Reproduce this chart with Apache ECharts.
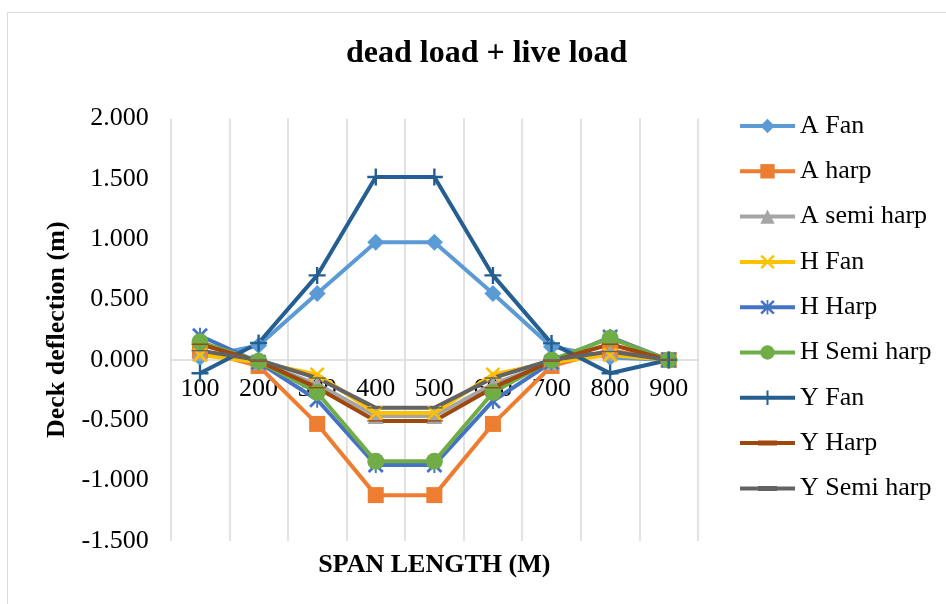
<!DOCTYPE html>
<html>
<head>
<meta charset="utf-8">
<script src="https://cdn.jsdelivr.net/npm/echarts@6/dist/echarts.min.js"></script>
<style>
html,body{margin:0;padding:0;background:#fff;}
#frame{position:absolute;left:7px;top:12px;width:960px;height:620px;border:1.5px solid #d9d9d9;box-sizing:border-box;}
#chart{position:absolute;left:0;top:0;width:946px;height:604px;}
</style>
</head>
<body>
<div id="frame"></div>
<div id="chart"></div>
<script>
const categories = ['100','200','300','400','500','600','700','800','900'];
const aFan       = [0.02, 0.12, 0.55, 0.975, 0.975, 0.55, 0.11, 0.02, 0];
const aHarp      = [0.08, -0.05, -0.53, -1.12, -1.12, -0.53, -0.05, 0.08, 0];
const aSemiHarp  = [0.06, -0.02, -0.20, -0.465, -0.465, -0.20, -0.02, 0.06, 0];
const hFan       = [0.04, -0.02, -0.12, -0.44, -0.44, -0.12, -0.02, 0.04, 0];
const hHarp      = [0.20, -0.02, -0.33, -0.87, -0.87, -0.34, -0.02, 0.19, 0];
const hSemiHarp  = [0.15, -0.01, -0.27, -0.84, -0.84, -0.27, 0.00, 0.18, 0];
const yFan       = [-0.11, 0.14, 0.70, 1.515, 1.515, 0.70, 0.137, -0.11, 0];
const yHarp      = [0.13, -0.01, -0.23, -0.505, -0.505, -0.23, -0.01, 0.13, 0];
const ySemiHarp  = [0.077, 0.00, -0.15, -0.397, -0.397, -0.15, 0.00, 0.07, 0];
const seriesNames = ['A Fan','A harp','A semi harp','H Fan','H Harp','H Semi harp','Y Fan','Y Harp','Y Semi harp'];
const yTicks = [-1.5, -1.0, -0.5, 0, 0.5, 1.0, 1.5, 2.0];

const FONT = "'Liberation Serif','Times New Roman',serif";
const X_PATH = 'path://M0,1.2L1.2,0L10,8.8L8.8,10Z M8.8,0L10,1.2L1.2,10L0,8.8Z';
const STAR_PATH = 'path://M0,1.2L1.2,0L10,8.8L8.8,10Z M8.8,0L10,1.2L1.2,10L0,8.8Z M4.4,0H5.6V10H4.4Z';
const PLUS_PATH = 'path://M4.3,0H5.7V10H4.3Z M0,4.3H10V5.7H0Z';
const DASH_PATH = 'path://M0,0H16V4.6H0Z';
const DASH_LEGEND = 'path://M0,0H55V0.02H0Z M0,7H55V11H0Z M18,6.5H37V11.5H18Z M0,17.98H55V18H0Z';

const styles = [
  {data: aFan, color:'#5B9BD5', symbol:'diamond', size:17},
  {data: aHarp, color:'#ED7D31', symbol:'rect', size:16},
  {data: aSemiHarp, color:'#A5A5A5', symbol:'triangle', size:16},
  {data: hFan, color:'#FFC000', symbol:X_PATH, size:15},
  {data: hHarp, color:'#4472C4', symbol:STAR_PATH, size:16},
  {data: hSemiHarp, color:'#70AD47', symbol:'circle', size:17},
  {data: yFan, color:'#255E91', symbol:PLUS_PATH, size:17},
  {data: yHarp, color:'#9E480E', symbol:DASH_PATH, size:[17,5], keep:true},
  {data: ySemiHarp, color:'#636363', symbol:DASH_PATH, size:[17,5], keep:true}
];

const GRID_TOP = 118.5, GRID_BOTTOM_Y = 541;
const zeroOffset = -(GRID_BOTTOM_Y - (GRID_TOP + (GRID_BOTTOM_Y - GRID_TOP) * (yTicks[yTicks.length-1] - 0) / (yTicks[yTicks.length-1] - yTicks[0])));

const chart = echarts.init(document.getElementById('chart'), null, {renderer:'canvas'});
chart.setOption({
  animation: false,
  backgroundColor: 'transparent',
  title: {
    text: 'dead load + live load',
    left: 341, top: 33,
    textStyle: {fontFamily: FONT, fontSize: 32, fontWeight: 'bold', color: '#000'}
  },
  legend: {
    orient: 'vertical',
    left: 738, top: 113,
    itemWidth: 55, itemHeight: 18, itemGap: 19.3,
    padding: 0,
    lineStyle: {width: 4},
    textStyle: {fontFamily: FONT, fontSize: 26, color: '#000'},
    data: seriesNames.map((n, i) => styles[i].keep ? {name: n, icon: DASH_LEGEND} : n)
  },
  grid: {left: 170.7, right: 248, top: GRID_TOP, bottom: 604 - GRID_BOTTOM_Y, containLabel: false, outerBoundsMode: 'none'},
  xAxis: {
    type: 'category',
    data: categories,
    boundaryGap: true,
    position: 'bottom',
    offset: zeroOffset,
    name: 'SPAN LENGTH (M)',
    nameLocation: 'middle',
    nameGap: 192,
    nameTextStyle: {fontFamily: FONT, fontSize: 26, fontWeight: 'bold', color: '#000'},
    axisLine: {onZero: false, lineStyle: {color: '#d9d9d9', width: 1.5}},
    axisTick: {show: false},
    axisLabel: {interval: 0, margin: 16, fontFamily: FONT, fontSize: 26, color: '#000'},
    splitLine: {show: true, interval: 0, lineStyle: {color: '#d9d9d9', width: 1.5}}
  },
  yAxis: {
    type: 'value',
    min: yTicks[0], max: yTicks[yTicks.length-1], interval: 0.5,
    name: 'Deck deflection (m)',
    nameLocation: 'middle',
    nameGap: 100,
    nameTextStyle: {fontFamily: FONT, fontSize: 26, fontWeight: 'bold', color: '#000'},
    axisLine: {show: false},
    axisTick: {show: false},
    splitLine: {show: false},
    axisLabel: {margin: 22, fontFamily: FONT, fontSize: 26, color: '#000',
      formatter: v => v.toFixed(3)}
  },
  series: styles.map((s, i) => ({
    name: seriesNames[i],
    type: 'line',
    data: s.data,
    symbol: s.symbol,
    symbolSize: s.size,
    symbolKeepAspect: !!s.keep,
    showAllSymbol: true,
    color: s.color,
    lineStyle: {color: s.color, width: 4},
    itemStyle: {color: s.color, borderWidth: 0},
    emphasis: {disabled: true}
  }))
});
</script>
</body>
</html>
